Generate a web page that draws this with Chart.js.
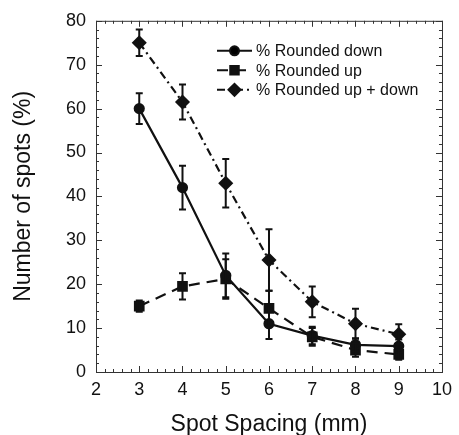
<!DOCTYPE html>
<html>
<head>
<meta charset="utf-8">
<script src="https://cdn.jsdelivr.net/npm/chart.js@4.4.0/dist/chart.umd.min.js"></script>
<style>
  html, body { margin: 0; padding: 0; background: #fff; }
  #wrap { width: 459px; height: 435px; }
</style>
</head>
<body>
<div id="wrap"><canvas id="mycanvas"></canvas></div>
<script>
// spot spacing (mm)
var spacing = [3, 4, 5, 6, 7, 8, 9];

var roundedDown = [60, 42, 22, 11, 8.3, 6.2, 5.9];
var roundedDownErr = [3.5, 5, 5, 3.5, 2, 1.5, 1.5];

var roundedUp = [15, 19.5, 21.2, 14.5, 8, 5, 4];
var roundedUpErr = [1.3, 3, 4.5, 4, 2, 1.5, 1.2];

var roundedBoth = [75, 61.5, 43, 25.5, 16, 11, 8.6];
var roundedBothErr = [3, 4, 5.5, 7, 3.5, 3.4, 2.3];

var xTicks = [2, 3, 4, 5, 6, 7, 8, 9, 10];
var yTicks = [0, 10, 20, 30, 40, 50, 60, 70, 80];

var ink = "#111";
var font = "'Liberation Sans', Arial, sans-serif";

function pts(vals) {
	var out = [];
	for (var i in spacing) out.push({x: spacing[i], y: vals[i]});
	return out;
}

var errors = [roundedDownErr, roundedUpErr, roundedBothErr];

// error bars with small caps
var errorBars = {
	id: "errorBars",
	afterDatasetsDraw: function(chart) {
		var ctx = chart.ctx, xs = chart.scales.x, ys = chart.scales.y;
		ctx.save();
		ctx.strokeStyle = ink;
		ctx.lineWidth = 2;
		ctx.setLineDash([]);
		chart.data.datasets.forEach(function(ds, d) {
			ds.data.forEach(function(p, i) {
				var e = errors[d][i];
				var x = xs.getPixelForValue(p.x);
				var y1 = ys.getPixelForValue(p.y + e);
				var y2 = ys.getPixelForValue(p.y - e);
				ctx.beginPath();
				ctx.moveTo(x, y1); ctx.lineTo(x, y2);
				ctx.moveTo(x - 3.5, y1); ctx.lineTo(x + 3.5, y1);
				ctx.moveTo(x - 3.5, y2); ctx.lineTo(x + 3.5, y2);
				ctx.stroke();
			});
		});
		ctx.restore();
	}
};

// box round the plot with inward major and minor ticks
var frame = {
	id: "frame",
	afterDraw: function(chart) {
		var ctx = chart.ctx, a = chart.chartArea, xs = chart.scales.x, ys = chart.scales.y;
		ctx.save();
		ctx.strokeStyle = "#333";
		ctx.lineWidth = 1;
		ctx.strokeRect(a.left + 0.5, a.top + 0.5, a.right - a.left, a.bottom - a.top);
		ctx.beginPath();
		for (var v = 2; v <= 10.001; v += 0.2) {
			var x = Math.round(xs.getPixelForValue(v)) + 0.5;
			var len = Math.abs(v - Math.round(v)) < 0.01 ? 6 : 3;
			ctx.moveTo(x, a.bottom); ctx.lineTo(x, a.bottom - len);
			ctx.moveTo(x, a.top); ctx.lineTo(x, a.top + len);
		}
		for (var w = 0; w <= 80.001; w += 2) {
			var y = Math.round(ys.getPixelForValue(w)) + 0.5;
			var l2 = (Math.round(w) % 10 === 0) ? 6 : 3;
			ctx.moveTo(a.left, y); ctx.lineTo(a.left + l2, y);
			ctx.moveTo(a.right, y); ctx.lineTo(a.right - l2, y);
		}
		ctx.stroke();
		ctx.restore();
	}
};

// legend inside the plot, top right
var insideLegend = {
	id: "insideLegend",
	afterDraw: function(chart) {
		var ctx = chart.ctx, a = chart.chartArea;
		ctx.save();
		ctx.font = "16px " + font;
		ctx.textBaseline = "middle";
		chart.data.datasets.forEach(function(ds, d) {
			var y = a.top + 30 + d * 19.5;
			var x0 = a.left + 121, x1 = a.left + 156;
			ctx.strokeStyle = ink;
			ctx.lineWidth = 2;
			ctx.setLineDash(ds.borderDash || []);
			ctx.beginPath(); ctx.moveTo(x0, y); ctx.lineTo(x1, y); ctx.stroke();
			ctx.setLineDash([]);
			Chart.helpers.drawPoint(ctx, {pointStyle: ds.pointStyle, radius: ds.pointRadius, borderWidth: 1}, (x0 + x1) / 2, y);
			ctx.fillStyle = ink;
			ctx.fillText(ds.label, x1 + 4, y + 1);
		});
		ctx.restore();
	}
};

var chartdata = {
	datasets: [
		{
			label: "% Rounded down",
			data: pts(roundedDown),
			borderColor: ink,
			backgroundColor: ink,
			borderWidth: 2.2,
			pointStyle: "circle",
			pointRadius: 4.5
		},
		{
			label: "% Rounded up",
			data: pts(roundedUp),
			borderColor: ink,
			backgroundColor: ink,
			borderWidth: 2.2,
			borderDash: [11, 7],
			pointStyle: "rect",
			pointRadius: 6
		},
		{
			label: "% Rounded up + down",
			data: pts(roundedBoth),
			borderColor: ink,
			backgroundColor: ink,
			borderWidth: 2.2,
			borderDash: [8, 4, 2, 4],
			pointStyle: "rectRot",
			pointRadius: 6
		}
	]
};

var ctx = document.getElementById("mycanvas");

var chart = new Chart(ctx, {
	type: "line",
	data: chartdata,
	plugins: [errorBars, frame, insideLegend],
	options: {
		responsive: true,
		maintainAspectRatio: false,
		animation: false,
		layout: { padding: { left: 0, right: 10, top: 19, bottom: 0 } },
		plugins: { legend: { display: false }, tooltip: { enabled: false } },
		scales: {
			x: {
				type: "linear",
				min: 2, max: 10,
				afterBuildTicks: function(s) { s.ticks = xTicks.map(function(v) { return {value: v}; }); },
				afterFit: function(s) { s.height = 63; },
				grid: { display: false, drawTicks: false },
				border: { display: false },
				ticks: { color: ink, font: { family: font, size: 18 }, padding: 7, maxRotation: 0 },
				title: { display: true, text: "Spot Spacing (mm)", color: ink, font: { family: font, size: 23 }, padding: { top: 10, bottom: -3 } }
			},
			y: {
				min: 0, max: 80,
				afterBuildTicks: function(s) { s.ticks = yTicks.map(function(v) { return {value: v}; }); },
				afterFit: function(s) { s.width = 96; },
				grid: { display: false, drawTicks: false },
				border: { display: false },
				ticks: { color: ink, font: { family: font, size: 18 }, padding: 10 },
				title: { display: true, text: "Number of spots (%)", color: ink, font: { family: font, size: 23 }, padding: { top: 10, bottom: 4 } }
			}
		}
	}
});
</script>
</body>
</html>
